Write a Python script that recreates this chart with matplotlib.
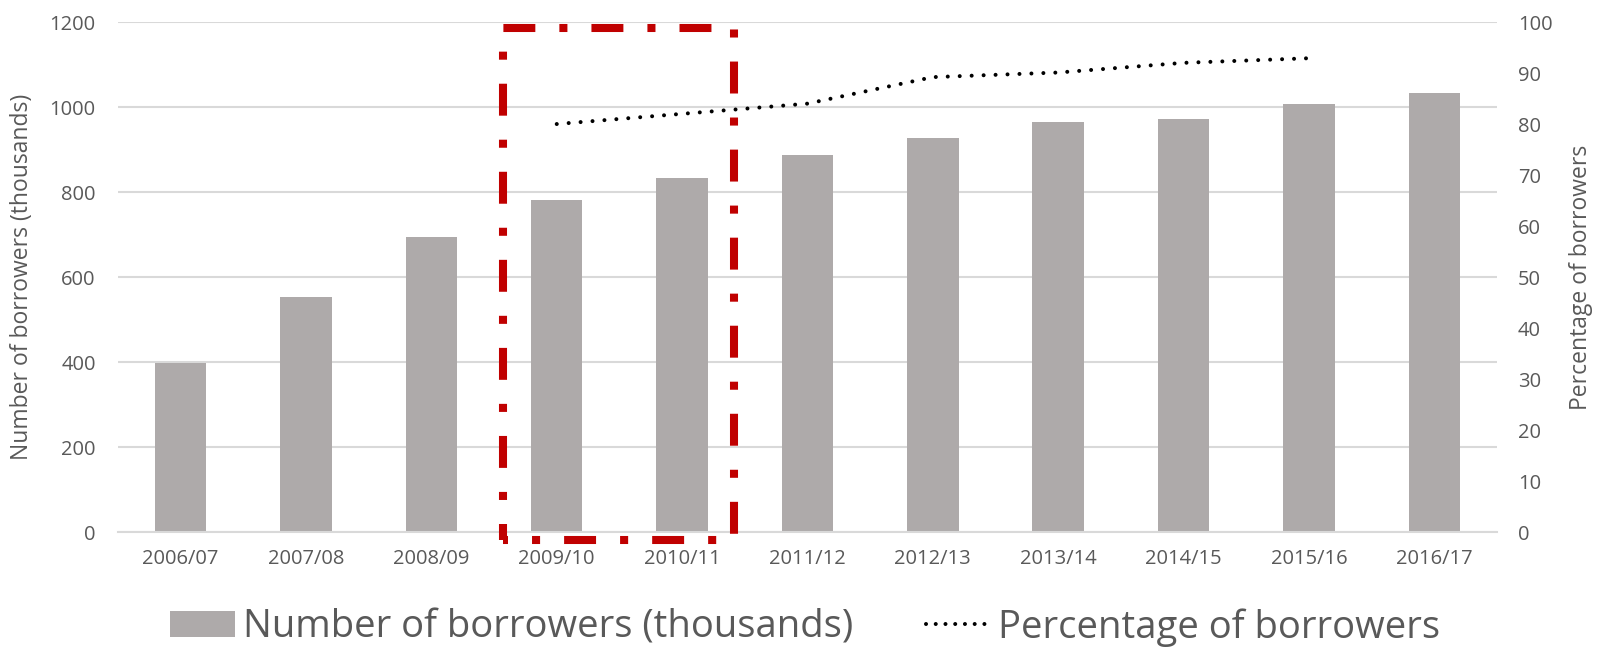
import matplotlib.pyplot as plt
from matplotlib.patches import Rectangle

plt.rcParams['font.family'] = ['Open Sans', 'DejaVu Sans']
plt.rcParams['lines.scale_dashes'] = False

# Data
years = ['2006/07', '2007/08', '2008/09', '2009/10', '2010/11', '2011/12',
         '2012/13', '2013/14', '2014/15', '2015/16', '2016/17']
borrowers = [397, 553, 695, 781, 832, 886, 926, 965, 972, 1006, 1032]
pct_years = ['2009/10', '2010/11', '2011/12', '2012/13', '2013/14', '2014/15', '2015/16']
pct_borrowers = [80.0, 82.0, 84.0, 89.2, 90.1, 92.0, 92.9]

text_grey = '#595959'
bar_grey = '#AEAAAA'
grid_grey = '#D9D9D9'

fig = plt.figure(figsize=(16.01, 6.48), dpi=100)
ax = fig.add_axes([0.0737, 0.179, 0.8613, 0.787])
ax2 = ax.twinx()

x = list(range(len(years)))
bars = ax.bar(x, borrowers, width=0.41, color=bar_grey, zorder=2,
              label='Number of borrowers (thousands)')

px = [years.index(y) for y in pct_years]
line, = ax2.plot(px, pct_borrowers, color='black', linewidth=2.9,
                 dashes=(0.01, 8.6), dash_capstyle='round',
                 label='Percentage of borrowers')

ax.set_xlim(-0.5, len(years) - 0.5)
ax.set_ylim(0, 1200)
ax2.set_ylim(0, 100)
ax.set_yticks(range(0, 1201, 200))
ax2.set_yticks(range(0, 101, 10))
ax.set_xticks(x)
ax.set_xticklabels(years)

ax.yaxis.grid(True, color=grid_grey, linewidth=1.5, zorder=0)
ax.set_axisbelow(True)
for a in (ax, ax2):
    for s in a.spines.values():
        s.set_visible(False)
    a.tick_params(length=0, colors=text_grey, labelsize=14.5)
ax.tick_params(axis='y', pad=16)
ax.tick_params(axis='x', pad=12)
ax2.tick_params(axis='y', pad=15)
ax.spines['bottom'].set_visible(True)
ax.spines['bottom'].set_color(grid_grey)
ax.spines['bottom'].set_linewidth(1.5)

ax.set_ylabel('Number of borrowers (thousands)', color=text_grey, fontsize=16.5, labelpad=11)
ax2.set_ylabel('Percentage of borrowers', color=text_grey, fontsize=16.5, labelpad=12)

# red dash-dot highlight box around 2009/10 - 2010/11
box = Rectangle((2.57, -19), 1.84, 1205, fill=False, edgecolor='#C00000',
                linewidth=5.8, clip_on=False, zorder=5, joinstyle='miter')
box.set_linestyle((19.4, (23, 17.3, 5.8, 17.3)))
box.set_capstyle('butt')
ax.add_patch(box)

leg = fig.legend([bars, line], ['Number of borrowers (thousands)', 'Percentage of borrowers'],
                 loc='center', bbox_to_anchor=(0.503, 0.032), ncol=2, frameon=False,
                 fontsize=27.5, labelcolor=text_grey, handlelength=1.7, handleheight=0.66,
                 handletextpad=0.2, columnspacing=1.9)
leg.get_lines()[0].set_dashes((0.01, 7))

plt.savefig('out.png', dpi=100)
